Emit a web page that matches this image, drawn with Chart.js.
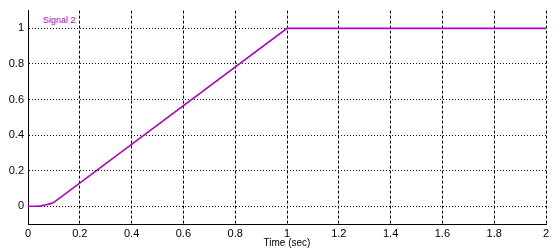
<!DOCTYPE html>
<html>
<head>
<meta charset="utf-8">
<script src="https://cdn.jsdelivr.net/npm/chart.js@4/dist/chart.umd.min.js"></script>
<style>
html,body{margin:0;padding:0;background:#fff;}
#wrap{width:556px;height:252px;position:relative;}
</style>
</head>
<body>
<div id="wrap"><canvas id="c"></canvas></div>
<script>
const seriesName = 'Signal 2';
const timeValues   = [0, 0.03, 0.05, 0.07, 0.09, 0.1, 1.0, 1.1, 2.0];
const signalValues = [0, 0, 0.002, 0.008, 0.016, 0.022, 1.0, 1.0, 1.0];
const xTickValues = [0, 0.2, 0.4, 0.6, 0.8, 1, 1.2, 1.4, 1.6, 1.8, 2];
const yTickValues = [0, 0.2, 0.4, 0.6, 0.8, 1];
const xTitle = 'Time (sec)';

const lineColor = '#b000c0';
const points = timeValues.map((t, i) => ({x: t, y: signalValues[i]}));

const signalLabel = {
  id: 'signalLabel',
  afterDatasetsDraw(chart) {
    const {ctx, chartArea} = chart;
    ctx.save();
    ctx.font = '9px "Liberation Sans", Arial, sans-serif';
    ctx.fillStyle = lineColor;
    ctx.textBaseline = 'middle';
    ctx.textAlign = 'left';
    ctx.fillText(seriesName, chartArea.left + 15, chartArea.top + 10);
    ctx.restore();
  }
};

new Chart(document.getElementById('c'), {
  type: 'line',
  data: {
    datasets: [{
      label: seriesName,
      data: points,
      borderColor: lineColor,
      backgroundColor: lineColor,
      borderWidth: 1.6,
      pointRadius: 0,
      tension: 0,
      fill: false
    }]
  },
  options: {
    responsive: true,
    maintainAspectRatio: false,
    animation: false,
    layout: {padding: {top: 5, right: 10, left: 0, bottom: 0}},
    plugins: {legend: {display: false}, tooltip: {enabled: false}, title: {display: false}},
    scales: {
      x: {
        type: 'linear',
        min: 0, max: 2,
        afterBuildTicks: s => { s.ticks = xTickValues.map(v => ({value: v})); },
        afterFit: s => { s.height = 28; },
        ticks: {
          color: '#000',
          font: {family: '"Liberation Sans", Arial, sans-serif', size: 11},
          padding: 3,
          maxRotation: 0,
          autoSkip: false,
          callback: v => String(v)
        },
        grid: {
          color: '#000',
          lineWidth: 1,
          drawTicks: false
        },
        border: {display: true, color: '#000', width: 1, dash: [3, 2]},
        title: {
          display: true,
          text: xTitle,
          color: '#000',
          font: {family: '"Liberation Sans", Arial, sans-serif', size: 10},
          padding: {top: 0, bottom: 3}
        }
      },
      y: {
        type: 'linear',
        min: -0.1, max: 1.1,
        afterBuildTicks: s => { s.ticks = yTickValues.map(v => ({value: v})); },
        afterFit: s => { s.width = 28; },
        ticks: {
          color: '#000',
          font: {family: '"Liberation Sans", Arial, sans-serif', size: 11},
          padding: 4,
          autoSkip: false,
          callback: v => String(v)
        },
        grid: {
          color: '#000',
          lineWidth: 1,
          drawTicks: false
        },
        border: {display: true, color: '#000', width: 1, dash: [1, 2]}
      }
    }
  },
  plugins: [signalLabel]
});
</script>
</body>
</html>
